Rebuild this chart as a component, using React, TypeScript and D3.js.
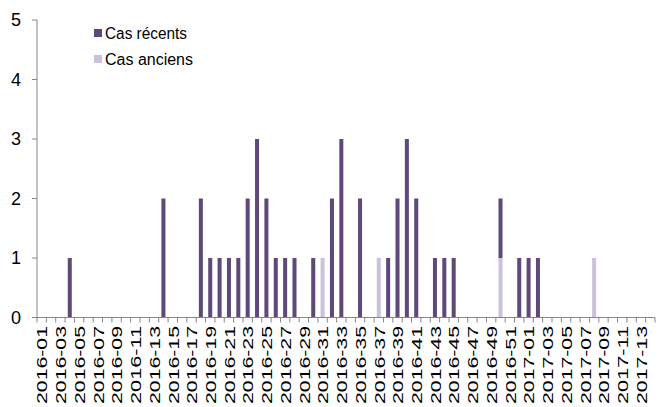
import React from "react";
import * as d3 from "d3";

const weeks: string[] = [
  "2016-01","2016-02","2016-03","2016-04","2016-05","2016-06","2016-07","2016-08","2016-09","2016-10",
  "2016-11","2016-12","2016-13","2016-14","2016-15","2016-16","2016-17","2016-18","2016-19","2016-20",
  "2016-21","2016-22","2016-23","2016-24","2016-25","2016-26","2016-27","2016-28","2016-29","2016-30",
  "2016-31","2016-32","2016-33","2016-34","2016-35","2016-36","2016-37","2016-38","2016-39","2016-40",
  "2016-41","2016-42","2016-43","2016-44","2016-45","2016-46","2016-47","2016-48","2016-49","2016-50",
  "2016-51","2016-52","2017-01","2017-02","2017-03","2017-04","2017-05","2017-06","2017-07","2017-08",
  "2017-09","2017-10","2017-11","2017-12","2017-13","2017-14",
];

const casRecents: number[] = [
  0,0,0,1,0,0,0,0,0,0,
  0,0,0,2,0,0,0,2,1,1,
  1,1,2,3,2,1,1,1,0,1,
  0,2,3,0,2,0,0,1,2,3,
  2,0,1,1,1,0,0,0,0,1,
  0,1,1,1,0,0,0,0,0,0,
  0,0,0,0,0,0,
];

const casAnciens: number[] = [
  0,0,0,0,0,0,0,0,0,0,
  0,0,0,0,0,0,0,0,0,0,
  0,0,0,0,0,0,0,0,0,0,
  1,0,0,0,0,0,1,0,0,0,
  0,0,0,0,0,0,0,0,0,1,
  0,0,0,0,0,0,0,0,0,1,
  0,0,0,0,0,0,
];

const yTicks: number[] = [0, 1, 2, 3, 4, 5];
const legendLabels: string[] = ["Cas récents", "Cas anciens"];

const W = 666;
const H = 407;
const left = 37;
const right = 655;
const top = 20;
const bottom = 317.5;
const DARK = "#5F497A";
const LIGHT = "#CCC1DA";
const AXIS = "#868686";
const FONT = "Liberation Sans, Arial, sans-serif";

export default function App() {
  const x = d3.scaleBand<string>().domain(weeks).range([left, right]).paddingInner(0.57).paddingOuter(0.285);
  const xb = d3.scaleLinear().domain([0, weeks.length]).range([left, right]);
  const y = d3.scaleLinear().domain([0, 5]).range([bottom, top]);
  const step = (right - left) / weeks.length;

  const stacked = weeks.map((w, i) => ({ w, a: casAnciens[i], r: casRecents[i] }));

  return (
    <svg width={W} height={H} style={{ position: "absolute", left: 0, top: 0, background: "#fff" }}>
      {stacked.map((d) => (
        <g key={d.w}>
          {d.a > 0 && (
            <rect x={x(d.w)!} width={x.bandwidth()} y={y(d.a)} height={y(0) - y(d.a)} fill={LIGHT} />
          )}
          {d.r > 0 && (
            <rect x={x(d.w)!} width={x.bandwidth()} y={y(d.a + d.r)} height={y(d.a) - y(d.a + d.r)} fill={DARK} />
          )}
        </g>
      ))}
      <line x1={left} x2={left} y1={top} y2={bottom} stroke={AXIS} strokeWidth={1} />
      {yTicks.map((t) => (
        <g key={t}>
          <line x1={left - 5} x2={left} y1={y(t)} y2={y(t)} stroke={AXIS} strokeWidth={1} />
          <text x={21} y={y(t)} dy="0.36em" textAnchor="end" fontFamily={FONT} fontSize={18} fill="#000">
            {t}
          </text>
        </g>
      ))}
      <line x1={left} x2={right} y1={bottom} y2={bottom} stroke={AXIS} strokeWidth={1} />
      {d3.range(weeks.length + 1).map((k) => (
        <line key={k} x1={xb(k)} x2={xb(k)} y1={bottom} y2={bottom + 5} stroke={AXIS} strokeWidth={1} />
      ))}
      {weeks.map((w, i) =>
        i % 2 === 0 ? (
          <text
            key={w}
            transform={`translate(${left + step * (i + 0.5)},${326}) rotate(-90)`}
            dy="0.37em"
            textAnchor="end"
            fontFamily={FONT}
            fontSize={15.5}
            textLength={78}
            lengthAdjust="spacingAndGlyphs"
            fill="#000"
          >
            {w}
          </text>
        ) : null
      )}
      {legendLabels.map((l, i) => (
        <g key={l} transform={`translate(94,${29 + i * 26})`}>
          <rect x={0} y={0} width={8} height={8} fill={i === 0 ? DARK : LIGHT} />
          <text x={11} y={4} dy="0.37em" fontFamily={FONT} fontSize={16} fill="#000" textLength={i === 0 ? 82 : 88} lengthAdjust="spacingAndGlyphs">
            {l}
          </text>
        </g>
      ))}
    </svg>
  );
}
